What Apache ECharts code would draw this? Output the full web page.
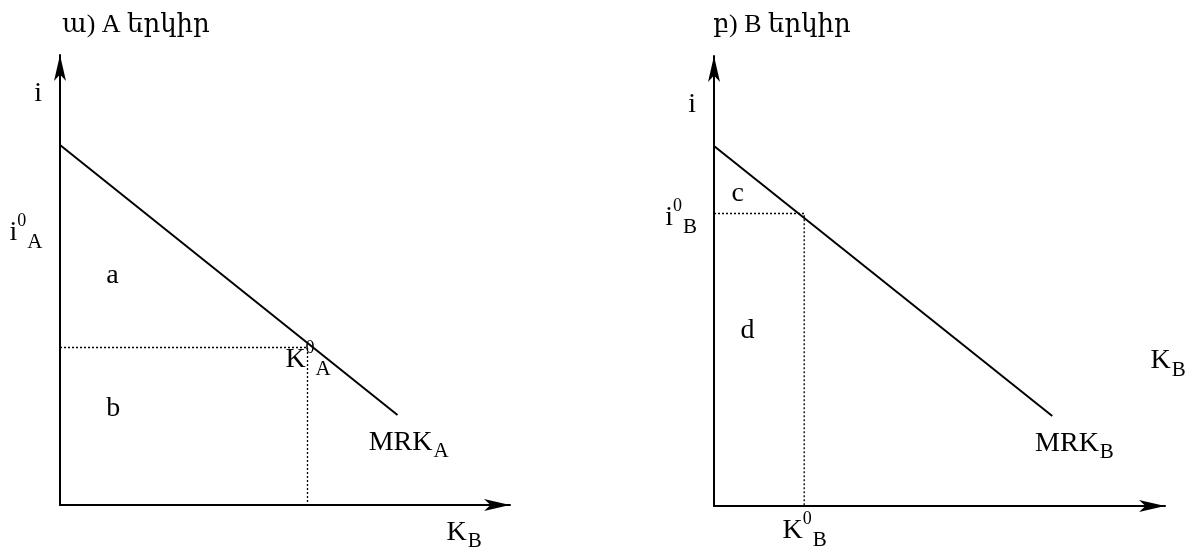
<!DOCTYPE html>
<html>
<head>
<meta charset="utf-8">
<script src="https://cdn.jsdelivr.net/npm/echarts@6/dist/echarts.min.js"></script>
<style>
    html, body {margin: 0; padding: 0; background: #fff;}
    #chart {width: 1198px; height: 550px;}
</style>
</head>
<body>
<div id="chart"></div>
<script>
// panel titles
let titles = ['ա) A երկիր', 'բ) B երկիր']

// MRK lines, [K, i]
let mrkA = [[0, 80], [75, 20]]
let mrkB = [[0, 80], [75, 20]]

// equilibrium point (dotted guides)
let eqA = [55, 35]
let eqB = [20, 65]

// text labels: [x, y, text]
let labelsA = [
    [-5.6, 91.4, '{m|i}'],
    [-11.1, 60.4, '{m|i}{sup|0}{sub|A}'],
    [10.4, 50.9, '{m|a}'],
    [10.4, 21.3, '{m|b}'],
    [50.2, 32.2, '{m|K}{sup|0}{sub|A}'],
    [68.7, 13.8, '{m|MRK}{sub|A}'],
    [86, -6.2, '{m|K}{sub|B}']
]
let labelsB = [
    [-5.6, 89.0, '{m|i}'],
    [-10.7, 64, '{m|i}{sup|0}{sub|B}'],
    [4.0, 69.3, '{m|c}'],
    [6.0, 38.9, '{m|d}'],
    [96.9, 32.2, '{m|K}{sub|B}'],
    [71.3, 13.8, '{m|MRK}{sub|B}'],
    [15.3, -5.6, '{m|K}{sup|0}{sub|B}']
]

let font = '"Liberation Serif", "DejaVu Serif", serif'

let chart = echarts.init(document.getElementById('chart'))

let rich = {
    m: {fontSize: 28, fontFamily: font, lineHeight: 40, verticalAlign: 'middle', color: '#000'},
    sup: {fontSize: 18, fontFamily: font, lineHeight: 16, verticalAlign: 'top', color: '#000'},
    sub: {fontSize: 21, fontFamily: font, lineHeight: 38, verticalAlign: 'bottom', color: '#000', padding: [0, 0, 0, 1]}
}

let axisCommon = {
    type: 'value',
    min: 0,
    max: 100,
    axisLine: {
        show: true,
        onZero: false,
        symbol: ['none', 'arrow'],
        symbolSize: [9, 26],
        lineStyle: {color: '#000', width: 2}
    },
    axisTick: {show: false},
    axisLabel: {show: false},
    splitLine: {show: false}
}

function ax(idx) {
    return Object.assign({}, axisCommon, {gridIndex: idx})
}

function panelSeries(idx, mrk, eq, labels) {
    return [
        {
            type: 'line',
            xAxisIndex: idx,
            yAxisIndex: idx,
            data: mrk,
            symbol: 'none',
            lineStyle: {color: '#000', width: 2},
            silent: true
        },
        {
            type: 'line',
            xAxisIndex: idx,
            yAxisIndex: idx,
            data: [[0, eq[1]], eq, [eq[0], 0]],
            symbol: 'none',
            lineStyle: {color: '#000', width: 1.3, type: [2, 2]},
            silent: true
        },
        {
            type: 'scatter',
            xAxisIndex: idx,
            yAxisIndex: idx,
            clip: false,
            symbolSize: 1,
            itemStyle: {opacity: 0},
            silent: true,
            data: labels.map((item) => [item[0], item[1], item[2]]),
            label: {
                show: true,
                position: [0, 0],
                align: 'left',
                verticalAlign: 'middle',
                color: '#000',
                opacity: 1,
                textBorderWidth: 0,
                formatter: (p) => p.data[2],
                rich: rich
            }
        }
    ]
}

let option = {
    animation: false,
    backgroundColor: '#fff',
    grid: [
        {left: 60, top: 55, width: 450, height: 450},
        {left: 714, top: 56, width: 451, height: 450}
    ],
    xAxis: [ax(0), ax(1)],
    yAxis: [ax(0), ax(1)],
    graphic: [
        {type: 'text', x: 62, y: 25, style: {text: titles[0], font: '26px ' + font, fill: '#000', verticalAlign: 'middle'}},
        {type: 'text', x: 713, y: 25, style: {text: titles[1], font: '26px ' + font, fill: '#000', verticalAlign: 'middle'}}
    ],
    series: [].concat(panelSeries(0, mrkA, eqA, labelsA), panelSeries(1, mrkB, eqB, labelsB))
}

chart.setOption(option)
</script>
</body>
</html>
